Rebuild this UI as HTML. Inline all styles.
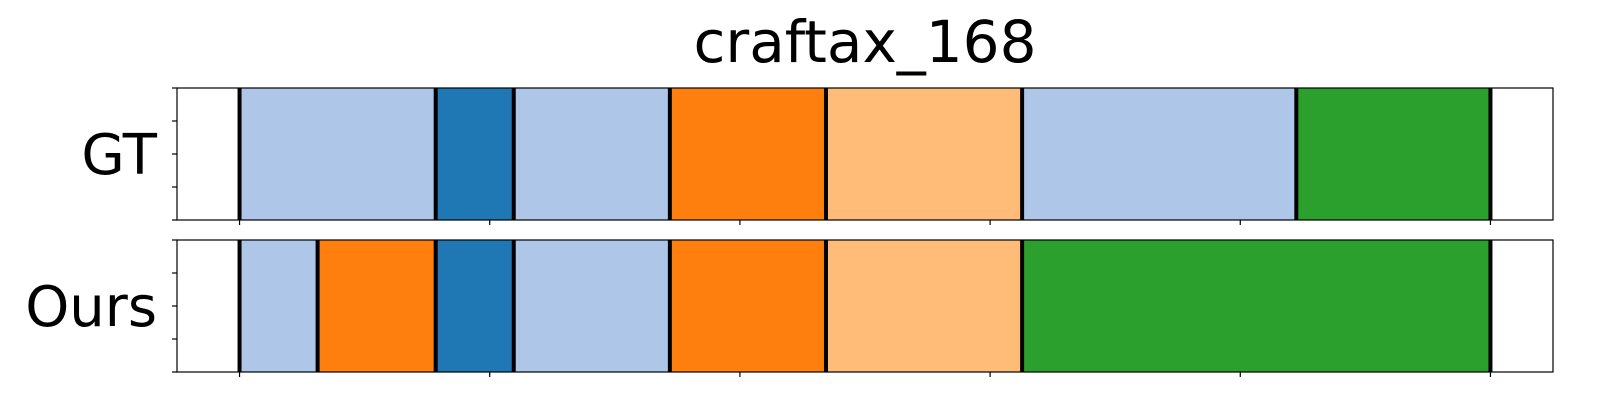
<!DOCTYPE html>
<html><head><meta charset="utf-8"><style>
html,body{margin:0;padding:0;background:#fff;}
svg{display:block;font-family:"DejaVu Sans","Liberation Sans",sans-serif;}
</style></head><body>
<svg id="chart" width="1600" height="400" xmlns="http://www.w3.org/2000/svg">
<text x="865" y="62" font-size="58" text-anchor="middle">craftax_168</text>
<g id="panels"></g>
</svg>
<script>
const rowLabels = ["GT", "Ours"];
const gtBounds = [0, 39.2, 54.8, 86, 117.2, 156.4, 211.2, 250];
const gtClasses = ["lb", "b", "lb", "o", "lo", "lb", "g"];
const oursBounds = [0, 15.6, 39.2, 54.8, 86, 117.2, 156.4, 250];
const oursClasses = ["lb", "o", "b", "lb", "o", "lo", "g"];
const xTicks = [0, 50, 100, 150, 200, 250];
const colors = {lb:"#aec7e8", b:"#1f77b4", o:"#ff7f0e", lo:"#ffbb78", g:"#2ca02c"};
const NS = "http://www.w3.org/2000/svg";
const X0 = 177, X1 = 1553, XMIN = -12.5, XMAX = 262.5;
function xs(v){ return X0 + (v - XMIN) / (XMAX - XMIN) * (X1 - X0); }
const panels = [{top:88, bounds:gtBounds, cls:gtClasses},{top:240, bounds:oursBounds, cls:oursClasses}];
const H = 132;
const g = document.getElementById("panels");
function mk(tag, attrs){ const e = document.createElementNS(NS, tag); for (const k in attrs) e.setAttribute(k, attrs[k]); g.appendChild(e); return e; }
panels.forEach((p, pi) => {
  for (let i = 0; i < p.cls.length; i++) {
    const r = mk("rect", {x: xs(p.bounds[i]), y: p.top, width: xs(p.bounds[i+1]) - xs(p.bounds[i]), height: H, fill: colors[p.cls[i]]});
    
    
  }
  p.bounds.forEach((b, i) => {
    const l = mk("line", {x1: xs(b), x2: xs(b), y1: p.top, y2: p.top + H, stroke: "#000", "stroke-width": 4});
    
    
  });
  const fr = mk("rect", {x: X0, y: p.top, width: X1 - X0, height: H, fill: "none", stroke: "#000", "stroke-width": 1.2});
  
  
  for (let k = 0; k < 5; k++) {
    const y = p.top + k * H / 4;
    const t = mk("line", {x1: X0 - 5, x2: X0, y1: y, y2: y, stroke: "#000", "stroke-width": 1.2});
    
    
  }
  xTicks.forEach(v => {
    const t = mk("line", {x1: xs(v), x2: xs(v), y1: p.top + H, y2: p.top + H + 5, stroke: "#000", "stroke-width": 1.2});
    
    
  });
  const lab = mk("text", {x: 157, y: p.top + H / 2 + 20, "font-size": 56, "text-anchor": "end"});
  lab.textContent = rowLabels[pi];
  
  
});
</script>
</body></html>
